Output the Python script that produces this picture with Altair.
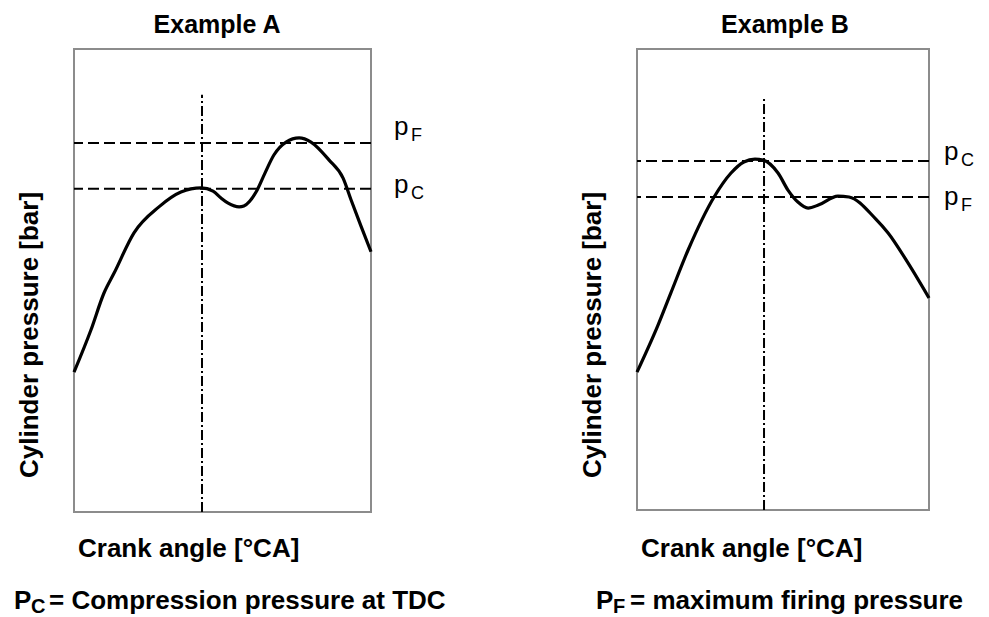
import altair as alt
import pandas as pd

FONT = "Liberation Sans"

# ---- data ----
a_angle = [0, 5.7, 10.1, 13.5, 20.2, 28.6, 36.0, 42.8, 46.8, 49.5, 51.9, 55.6, 57.2,
           61.3, 64.3, 67.3, 71.4, 75.8, 79.8, 85.9, 90.6, 93.3, 96.6, 100]
a_pressure = [30.2, 39.3, 47.3, 51.6, 60.3, 65.9, 69.1, 70.0, 69.3, 67.8, 66.7, 65.9, 66.1,
              69.1, 73.2, 77.1, 79.9, 80.8, 79.9, 76.0, 72.1, 67.4, 61.8, 56.2]
a_levels = [79.7, 69.8]
a_level_names = ["F", "C"]

b_angle = [0, 7.2, 11.6, 17.5, 26.4, 32.2, 36.6, 40.4, 43.2, 48.3, 51.7, 55.1, 58.6,
           62.3, 68.8, 72.6, 81.8, 86.0, 92.8, 100]
b_pressure = [29.9, 40.1, 47.1, 56.4, 67.9, 73.1, 75.5, 76.1, 75.9, 73.1, 69.4, 66.8, 65.5,
              66.2, 68.1, 67.9, 63.1, 60.1, 53.6, 46.0]
b_levels = [75.7, 67.9]
b_level_names = ["C", "F"]

tdc_angle = [43.1, 43.5]
tdc_top = [90.1, 89.8]

titles = ["Example A", "Example B"]
x_title = "Crank angle [°CA]"
y_title = "Cylinder pressure [bar]"
note_main = ["P", "P"]
note_sub = ["C", "F"]
note_text = ["= Compression pressure at TDC", "= maximum firing pressure"]

XS = alt.Scale(domain=[0, 100], nice=False)
YS = alt.Scale(domain=[0, 100], nice=False)


def one(text):
    return pd.DataFrame({"t": [text]})


def txt(text, x, y, size, weight="bold", align="left", baseline="alphabetic", angle=0):
    kw = dict(font=FONT, fontSize=size, fontWeight=weight, align=align,
              baseline=baseline, color="black")
    if angle:
        kw["angle"] = angle
    return alt.Chart(one(text)).mark_text(**kw).encode(
        text="t:N", x=alt.value(x), y=alt.value(y))


def panel(i, angle, pressure, levels, names, w, h, title_x, label_x, label_dy,
          note_x):
    curve = alt.Chart(pd.DataFrame({"angle": angle, "pressure": pressure})).mark_line(
        color="black", strokeWidth=3.2, interpolate="monotone").encode(
        x=alt.X("angle:Q", scale=XS, axis=None),
        y=alt.Y("pressure:Q", scale=YS, axis=None))
    lev = pd.DataFrame({"level": levels, "name": names})
    hlines = alt.Chart(lev).mark_rule(color="black", strokeWidth=2,
                                      strokeDash=[11, 5]).encode(
        y=alt.Y("level:Q", scale=YS, axis=None))
    tdc = pd.DataFrame({"x": [tdc_angle[i]], "y0": [0], "y1": [tdc_top[i]]})
    vline = alt.Chart(tdc).mark_rule(color="black", strokeWidth=2,
                                     strokeDash=[10, 3, 2, 3]).encode(
        x=alt.X("x:Q", scale=XS, axis=None),
        y=alt.Y("y0:Q", scale=YS, axis=None), y2="y1:Q")
    layers = [hlines, vline, curve]
    for k in range(len(levels)):
        row = lev.iloc[[k]]
        layers.append(alt.Chart(row).mark_text(
            font=FONT, fontSize=26, align="left", baseline="alphabetic",
            dy=label_dy[k], color="black").encode(
            text=alt.value("p"), x=alt.value(label_x),
            y=alt.Y("level:Q", scale=YS, axis=None)))
        layers.append(alt.Chart(row).mark_text(
            font=FONT, fontSize=18, align="left", baseline="alphabetic",
            dy=label_dy[k] + 6, color="black").encode(
            text="name:N", x=alt.value(label_x + 17),
            y=alt.Y("level:Q", scale=YS, axis=None)))
    layers.append(txt(titles[i], title_x, -16, 25, align="center"))
    layers.append(txt(x_title, 4, 508, 26))
    layers.append(txt(y_title, -36, 429, 26, angle=270))
    layers.append(txt(note_main[i], note_x[0], 560, 26))
    layers.append(txt(note_sub[i], note_x[1], 564, 20))
    layers.append(txt(note_text[i], note_x[2], 560, 26))
    return alt.layer(*layers).properties(width=w, height=h)


pa = panel(0, a_angle, a_pressure, a_levels, a_level_names, 297, 463,
           143, 320, [-8, 4], [-60, -43, -25])
pb = panel(1, b_angle, b_pressure, b_levels, b_level_names, 292, 461,
           148, 307, [-1, 8], [-41, -24, -7])

chart = alt.hconcat(pa, pb, spacing=266, bounds="flush").configure_view(
    stroke="#8c8c8c", strokeWidth=2).properties(
    padding={"left": 5, "top": 4, "right": 5, "bottom": 0})

chart.save("out.html", embed_options={"renderer": "svg", "actions": False})
